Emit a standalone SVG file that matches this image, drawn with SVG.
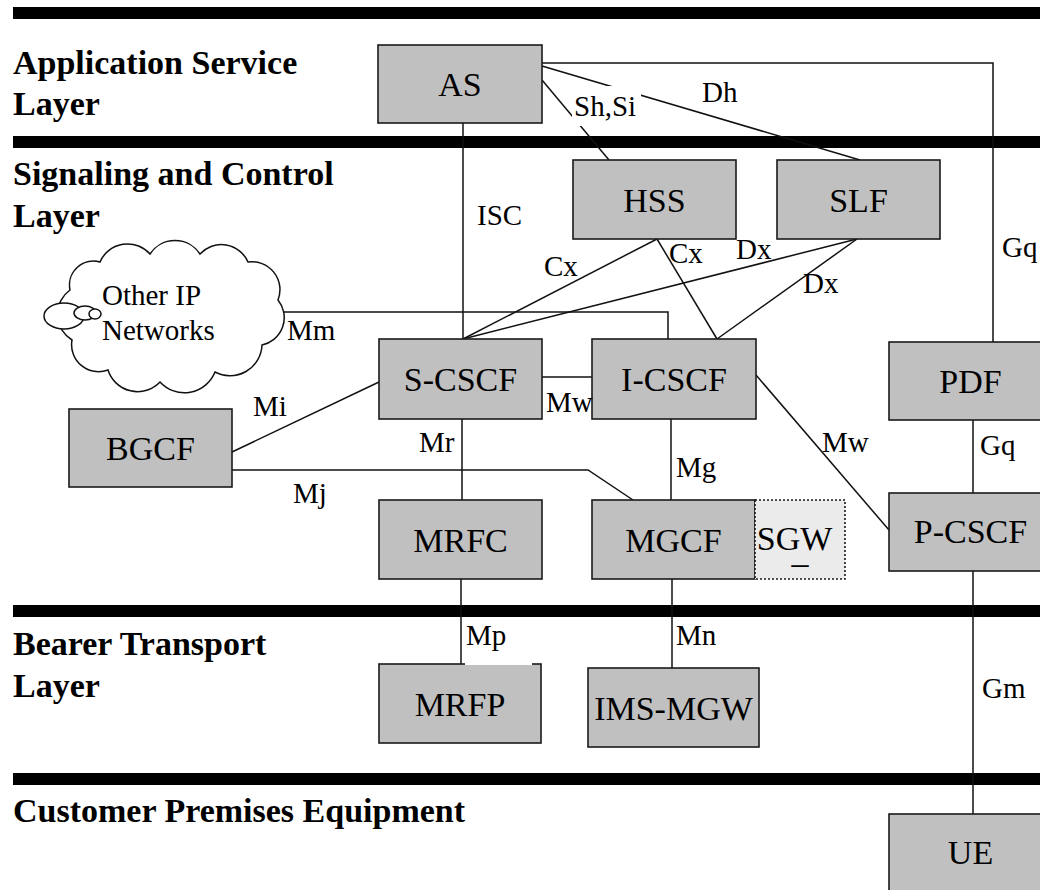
<svg xmlns="http://www.w3.org/2000/svg" width="1040" height="890" viewBox="0 0 1040 890">
  <style>
    .bar { fill: #000; }
    .layer { font-family: "Liberation Serif", "Times New Roman", serif; font-size: 34px; font-weight: bold; fill: #000; }
    .box { fill: #c0c0c0; stroke: #1a1a1a; stroke-width: 1.6; }
    .sgw { fill: #ebebeb; stroke: #1a1a1a; stroke-width: 1.6; stroke-dasharray: 2 2; }
    .name { font-family: "Liberation Serif", "Times New Roman", serif; font-size: 34px; fill: #000; text-anchor: middle; }
    .link { fill: none; stroke: #111; stroke-width: 1.5; }
    .lbl { font-family: "Liberation Serif", "Times New Roman", serif; font-size: 29px; fill: #000; }
    .cloud { fill: #fff; stroke: #111; stroke-width: 1.5; }
  </style>

  <rect width="1040" height="890" fill="#fff"/>

  <!-- layer separators -->
  <g id="separators">
    <rect class="bar" x="13" y="7" width="1027" height="12"/>
    <rect class="bar" x="13" y="136" width="1027" height="12"/>
    <rect class="bar" x="13" y="605" width="1027" height="12"/>
    <rect class="bar" x="13" y="773" width="1027" height="12"/>
  </g>

  <!-- layer titles -->
  <g id="layer-titles">
    <text class="layer" x="13" y="74">Application Service</text>
    <text class="layer" x="13" y="115">Layer</text>
    <text class="layer" x="13" y="185">Signaling and Control</text>
    <text class="layer" x="13" y="227">Layer</text>
    <text class="layer" x="13" y="655">Bearer Transport</text>
    <text class="layer" x="13" y="697">Layer</text>
    <text class="layer" x="13" y="822">Customer Premises Equipment</text>
  </g>

  <!-- interfaces between functions -->
  <g id="connectors">
    <line class="link" x1="463" y1="123" x2="463" y2="339"/>
    <polyline class="link" points="542,63 993,63 993,342"/>
    <line class="link" x1="542" y1="66" x2="860" y2="160"/>
    <line class="link" x1="542" y1="80" x2="609" y2="160"/>
    <line class="link" x1="657" y1="239" x2="463" y2="339"/>
    <line class="link" x1="657" y1="239" x2="717" y2="339"/>
    <line class="link" x1="857" y1="239" x2="463" y2="339"/>
    <line class="link" x1="857" y1="239" x2="717" y2="339"/>
    <polyline class="link" points="280,312 668,312 668,339"/>
    <line class="link" x1="542" y1="377" x2="592" y2="377"/>
    <line class="link" x1="756" y1="375" x2="889" y2="530"/>
    <line class="link" x1="232" y1="452" x2="379" y2="382"/>
    <polyline class="link" points="232,470 588,470 633,500"/>
    <line class="link" x1="462" y1="419" x2="462" y2="500"/>
    <line class="link" x1="671" y1="419" x2="671" y2="500"/>
    <line class="link" x1="461" y1="579" x2="461" y2="664"/>
    <line class="link" x1="672" y1="579" x2="672" y2="668"/>
    <line class="link" x1="973" y1="420" x2="973" y2="493"/>
    <line class="link" x1="973" y1="571" x2="973" y2="814"/>
  </g>

  <!-- external networks cloud -->
  <g id="other-ip-networks">
    <path class="cloud" d="M 70,290 A 24,24 0 0 1 100,262 A 30,30 0 0 1 150,254 A 30,30 0 0 1 200,254 A 29,29 0 0 1 248,262 A 28,28 0 0 1 278,300 A 28,28 0 0 1 262,345 A 32,32 0 0 1 215,372 A 33,33 0 0 1 160,382 A 31,31 0 0 1 108,370 A 27,27 0 0 1 72,340 A 30,30 0 0 1 70,290 Z"/>
    <ellipse class="cloud" cx="64" cy="316" rx="20" ry="13"/>
    <ellipse class="cloud" cx="85" cy="313" rx="11" ry="7"/>
    <ellipse class="cloud" cx="95" cy="314" rx="6" ry="5"/>
    <text class="lbl" x="102" y="305" font-size="28">Other IP</text>
    <text class="lbl" x="102" y="340" font-size="28">Networks</text>
  </g>

  <g id="AS">
    <rect class="box" x="378" y="45" width="164" height="78"/>
    <text class="name" x="460" y="96">AS</text>
  </g>
  <g id="HSS">
    <rect class="box" x="573" y="160" width="163" height="79"/>
    <text class="name" x="654.5" y="212">HSS</text>
  </g>
  <g id="SLF">
    <rect class="box" x="777" y="160" width="163" height="79"/>
    <text class="name" x="858.5" y="212">SLF</text>
  </g>
  <g id="S-CSCF">
    <rect class="box" x="379" y="339" width="163" height="80"/>
    <text class="name" x="460.5" y="391">S-CSCF</text>
  </g>
  <g id="I-CSCF">
    <rect class="box" x="592" y="339" width="164" height="80"/>
    <text class="name" x="674" y="391">I-CSCF</text>
  </g>
  <g id="PDF">
    <rect class="box" x="889" y="342" width="163" height="78"/>
    <text class="name" x="970.5" y="393">PDF</text>
  </g>
  <g id="BGCF">
    <rect class="box" x="69" y="409" width="163" height="78"/>
    <text class="name" x="150.5" y="460">BGCF</text>
  </g>
  <g id="MRFC">
    <rect class="box" x="379" y="500" width="163" height="79"/>
    <text class="name" x="460.5" y="552">MRFC</text>
  </g>
  <g id="MGCF">
    <rect class="box" x="592" y="500" width="163" height="79"/>
    <text class="name" x="673.5" y="552">MGCF</text>
  </g>
  <g id="SGW">
    <rect class="sgw" x="755" y="500" width="90" height="79"/>
    <text class="name"><tspan x="794.5" y="550">SGW</tspan><tspan x="800" y="563">_</tspan></text>
  </g>
  <g id="P-CSCF">
    <rect class="box" x="889" y="493" width="163" height="78"/>
    <text class="name" x="970.5" y="543">P-CSCF</text>
  </g>
  <g id="MRFP">
    <rect class="box" x="379" y="664" width="162" height="79"/>
    <text class="name" x="460" y="716">MRFP</text>
  </g>
  <g id="IMS-MGW">
    <rect class="box" x="588" y="668" width="171" height="79"/>
    <text class="name" x="673.5" y="720">IMS-MGW</text>
  </g>
  <g id="UE">
    <rect class="box" x="889" y="814" width="163" height="90"/>
    <text class="name" x="970.5" y="864">UE</text>
  </g>

  <!-- interface labels -->
  <g id="interface-labels">
    <text class="lbl" x="477" y="225">ISC</text>
    <rect x="572" y="86" width="69" height="40" fill="#fff"/>
    <text class="lbl" x="574" y="116">Sh,Si</text>
    <text class="lbl" x="702" y="102">Dh</text>
    <text class="lbl" x="1002" y="257">Gq</text>
    <text class="lbl" x="544" y="276">Cx</text>
    <text class="lbl" x="669" y="263">Cx</text>
    <text class="lbl" x="736" y="259">Dx</text>
    <text class="lbl" x="803" y="293">Dx</text>
    <text class="lbl" x="287" y="340">Mm</text>
    <text class="lbl" x="546" y="412">Mw</text>
    <text class="lbl" x="822" y="452">Mw</text>
    <text class="lbl" x="253" y="416">Mi</text>
    <text class="lbl" x="419" y="452">Mr</text>
    <text class="lbl" x="676" y="477">Mg</text>
    <text class="lbl" x="980" y="455">Gq</text>
    <text class="lbl" x="293" y="503">Mj</text>
    <rect x="465" y="620" width="67" height="45" fill="#fff"/>
    <text class="lbl" x="466" y="645">Mp</text>
    <text class="lbl" x="676" y="645">Mn</text>
    <text class="lbl" x="982" y="698">Gm</text>
  </g>
</svg>
